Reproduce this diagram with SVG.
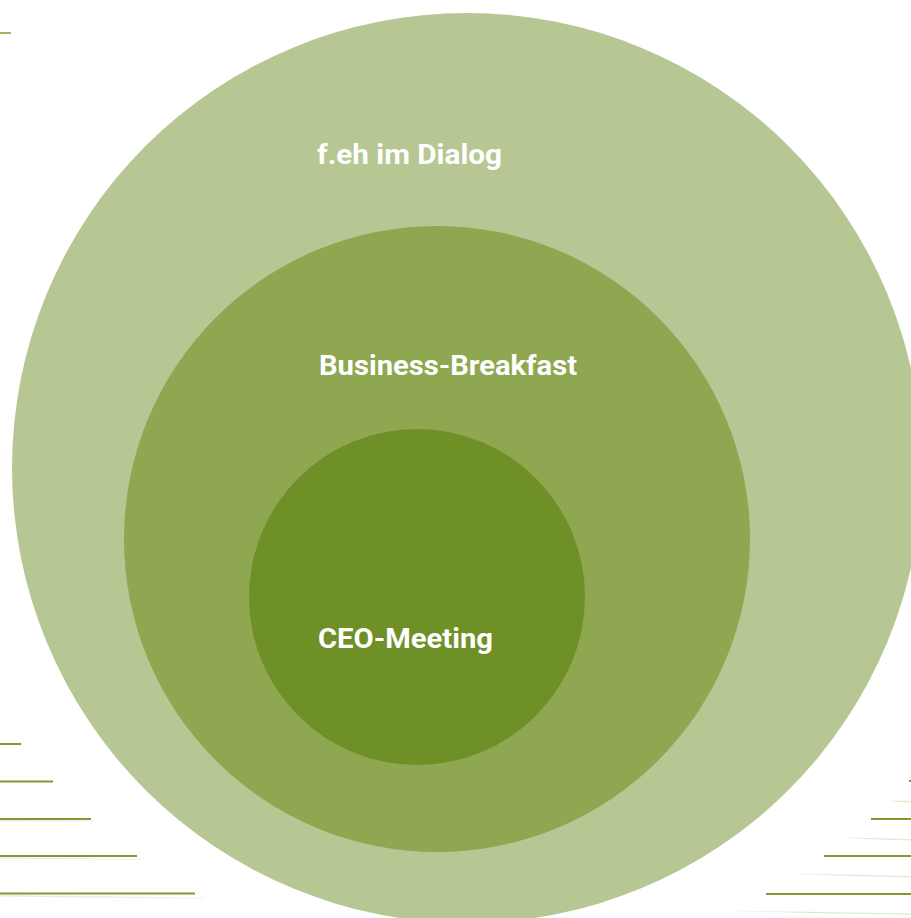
<svg xmlns="http://www.w3.org/2000/svg" width="911" height="918" viewBox="0 0 911 918">
  <defs>
    <style>
      .label { font-family: Roboto, "Liberation Sans", sans-serif; font-weight: 700; font-size: 28px; fill: #ffffff; }
      .rule { stroke: #7d9a35; stroke-width: 2; }
      .rule-soft { stroke: #8fa84f; stroke-width: 2; opacity: 0.85; }
    </style>
    <linearGradient id="fadeL" x1="0" y1="0" x2="1" y2="0">
      <stop offset="0" stop-color="#dfe6cb" stop-opacity="0.2"/>
      <stop offset="0.4" stop-color="#dfe6cb" stop-opacity="1"/>
      <stop offset="1" stop-color="#e6ecd6" stop-opacity="1"/>
    </linearGradient>
    <linearGradient id="fadeR" x1="0" y1="0" x2="1" y2="0">
      <stop offset="0" stop-color="#e6ecd6" stop-opacity="1"/>
      <stop offset="1" stop-color="#dfe6cb" stop-opacity="0.3"/>
    </linearGradient>
  </defs>

  <rect width="911" height="918" fill="#ffffff"/>

  <!-- decorative rules -->
  <g id="rules">
    <line class="rule-soft" x1="0" y1="33" x2="11" y2="33"/>

    <!-- left side -->
    <line class="rule" x1="0" y1="744" x2="21" y2="744"/>
    <line class="rule" x1="0" y1="781.5" x2="53" y2="781.5"/>
    <polygon points="0,820 94,820 94,821.5 0,821.5" fill="url(#fadeR)"/>
    <line class="rule" x1="0" y1="819" x2="91" y2="819"/>
    <polygon points="0,857.5 142,858.5 142,860 0,858.5" fill="url(#fadeR)"/>
    <line class="rule" x1="0" y1="856" x2="137" y2="856"/>
    <polygon points="0,895 204,897.5 204,899 0,896.5" fill="url(#fadeR)"/>
    <line class="rule" x1="0" y1="893.5" x2="195" y2="893.5"/>

    <!-- right side -->
    <line class="rule" x1="909" y1="781" x2="911" y2="781"/>
    <polygon points="889,800.5 911,801 911,802.5 889,801.5" fill="url(#fadeL)"/>
    <line class="rule" x1="871" y1="819" x2="911" y2="819"/>
    <polygon points="848,837.5 911,839 911,840.5 848,838.5" fill="url(#fadeL)"/>
    <line class="rule" x1="824" y1="856" x2="911" y2="856"/>
    <polygon points="798,873.5 911,876 911,877.5 798,874.5" fill="url(#fadeL)"/>
    <line class="rule" x1="766" y1="894" x2="911" y2="894"/>
    <polygon points="733,910.5 911,913.5 911,915 733,911.5" fill="url(#fadeL)"/>
  </g>

  <!-- nested circles -->
  <g id="dialog">
    <circle cx="467" cy="468" r="455" fill="#b7c793"/>
    <text class="label" x="317" y="164" textLength="185" lengthAdjust="spacingAndGlyphs">f.eh im Dialog</text>
  </g>
  <g id="breakfast">
    <circle cx="437" cy="539" r="313" fill="#8ea750"/>
    <text class="label" x="319" y="375" textLength="258" lengthAdjust="spacingAndGlyphs">Business-Breakfast</text>
  </g>
  <g id="ceo">
    <circle cx="417" cy="597" r="168" fill="#6f9027"/>
    <text class="label" x="318" y="648" textLength="175" lengthAdjust="spacingAndGlyphs">CEO-Meeting</text>
  </g>
</svg>
